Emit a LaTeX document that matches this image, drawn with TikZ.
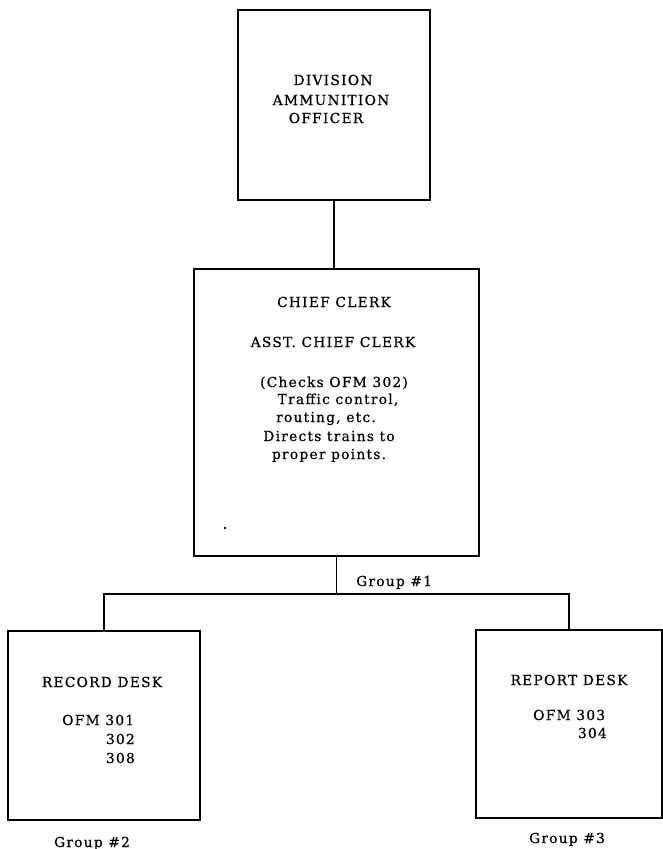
\documentclass[tikz,border=0pt]{standalone}
\usepackage{fontspec}
\setmainfont{DejaVu Serif}[LetterSpace=9, FakeBold=0.6]
\begin{document}
\begin{tikzpicture}[x=1pt,y=-1pt,
  box/.style={draw=black, line width=1.7pt, inner sep=0pt, rectangle},
  conn/.style={draw=black, line width=1.7pt},
  txt/.style={inner sep=0pt, anchor=base, font=\fontsize{13.8}{16}\selectfont},
  txtw/.style={txt, anchor=base west},
  txte/.style={txt, anchor=base east}]
\useasboundingbox (0,0) rectangle (663,849);
% boxes
\node[box, minimum width=192pt, minimum height=190pt] (dao) at (334,105) {};
\node[box, minimum width=285pt, minimum height=287pt] (cc) at (336.5,412.5) {};
\node[box, minimum width=192pt, minimum height=189pt] (rec) at (104,725.5) {};
\node[box, minimum width=186pt, minimum height=188pt] (rep) at (569,724) {};
% connectors
\coordinate (j) at (336.5,594);
\draw[conn] (dao.south) -- (dao.south |- cc.north);
\draw[conn] (cc.south) -- (j);
\draw[conn] (rec.north) |- (j) -| (rep.north);
% top box text
\node[txt] (t1) at (333,85) {DIVISION};
\node[txt] (t2) at (331,105) {AMMUNITION};
\node[txt] (t3) at (326,123) {OFFICER};
% middle box text
\node[txt] (c1) at (334,307) {CHIEF CLERK};
\node[txt] (c2) at (333,347) {ASST. CHIEF CLERK};
\node[txt] (c3) at (334,387) {(Checks OFM 302)};
\node[txt] (c4) at (338,404) {Traffic control,};
\node[txt] (c5) at (326,422) {routing, etc.};
\node[txt] (c6) at (329,441) {Directs trains to};
\node[txt] (c7) at (329,459) {proper points.};
\fill (225,528) circle (1.3pt);
% group labels
\node[txtw] (g1) at (356,586) {Group \#1};
\node[txt] (g2) at (92,847) {Group \#2};
\node[txt] (g3) at (567,843) {Group \#3};
% record desk
\node[txt] (r1) at (102,687) {RECORD DESK};
\node[txtw] (r2) at (62,725) {OFM 301};
\node[txte] (r3) at (135,744) {302};
\node[txte] (r4) at (135,763) {308};
% report desk
\node[txt] (p1) at (569,685) {REPORT DESK};
\node[txtw] (p2) at (533,720) {OFM 303};
\node[txte] (p3) at (607,738) {304};
\end{tikzpicture}
\end{document}
